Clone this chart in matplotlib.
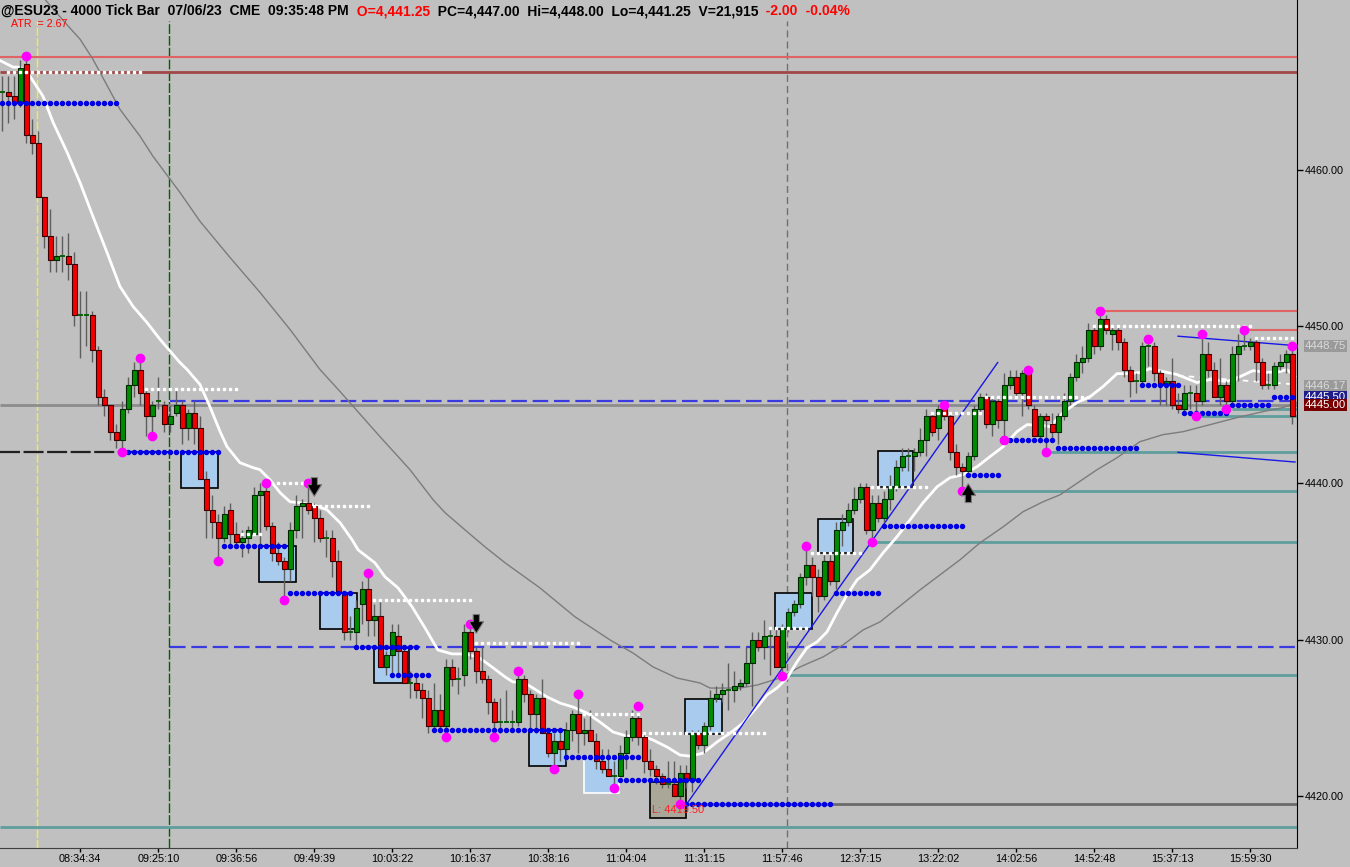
import matplotlib
matplotlib.use("Agg")
import matplotlib.pyplot as plt
from matplotlib.patches import Rectangle
import numpy as np

plt.rcParams['font.family'] = ['Liberation Sans', 'DejaVu Sans']

# ---------------- data ----------------
opens = [4465.0, 4465.0, 4464.75, 4464.25, 4466.75, 4462.25, 4461.75, 4458.25, 4455.75, 4454.25,
         4454.5, 4454.5, 4454.0, 4450.75, 4450.75, 4450.75, 4448.5, 4445.5, 4445.0, 4443.25,
         4442.75, 4444.75, 4446.25, 4447.25, 4445.75, 4444.25, 4445.25, 4445.0, 4443.75, 4444.5,
         4445.0, 4443.5, 4444.5, 4443.5, 4440.25, 4438.25, 4437.5, 4436.5, 4438.25, 4436.75,
         4436.25, 4436.5, 4436.75, 4439.25, 4439.5, 4437.25, 4435.5, 4435.0, 4434.5, 4437.0,
         4438.5, 4438.75, 4438.5, 4437.75, 4436.5, 4436.5, 4435.0, 4433.0, 4430.5, 4430.5,
         4432.25, 4433.25, 4431.25, 4431.5, 4428.25, 4429.0, 4430.25, 4429.25, 4427.25, 4427.25,
         4426.75, 4426.25, 4424.5, 4425.5, 4424.5, 4428.25, 4427.5, 4427.75, 4430.5, 4429.25,
         4428.0, 4427.5, 4426.0, 4424.75, 4424.75, 4424.75, 4424.75, 4427.5, 4426.5, 4425.25,
         4426.25, 4424.0, 4422.75, 4423.5, 4423.0, 4424.25, 4425.25, 4424.0, 4424.25, 4423.5,
         4422.25, 4421.75, 4421.25, 4421.25, 4422.75, 4423.75, 4425.0, 4423.75, 4422.25, 4421.75,
         4421.25, 4420.75, 4420.75, 4420.0, 4421.5, 4421.0, 4424.0, 4423.25, 4424.5, 4426.25,
         4426.5, 4426.75, 4426.75, 4427.0, 4427.25, 4428.5, 4430.0, 4429.5, 4430.25, 4430.25,
         4428.25, 4430.75, 4431.75, 4432.25, 4434.0, 4434.75, 4434.0, 4432.75, 4435.0, 4433.75,
         4437.0, 4437.5, 4438.25, 4439.0, 4439.75, 4437.0, 4438.75, 4437.75, 4439.0, 4439.75,
         4441.0, 4441.75, 4441.75, 4442.0, 4442.75, 4444.25, 4443.5, 4444.75, 4444.25, 4442.0,
         4441.0, 4440.75, 4441.75, 4444.75, 4445.5, 4443.75, 4445.25, 4444.0, 4446.25, 4446.75,
         4445.75, 4447.0, 4444.75, 4443.0, 4444.25, 4443.75, 4443.25, 4444.25, 4445.25, 4446.75,
         4447.75, 4448.0, 4449.75, 4448.75, 4450.5, 4449.5, 4449.75, 4449.0, 4447.25, 4446.5,
         4446.5, 4448.75, 4448.75, 4447.0, 4446.25, 4446.5, 4445.0, 4444.75, 4445.75, 4445.75,
         4445.25, 4448.25, 4447.25, 4445.5, 4446.25, 4445.25, 4448.25, 4448.75, 4448.75, 4449.0,
         4447.75, 4446.25, 4446.25, 4447.5, 4447.75, 4448.25]
highs = [4466.0, 4466.0, 4466.0, 4467.0, 4467.25, 4463.25, 4462.5, 4458.25, 4457.5, 4455.75,
         4455.75, 4456.0, 4454.75, 4452.25, 4452.25, 4451.0, 4448.75, 4446.0, 4445.0, 4443.75,
         4445.25, 4446.75, 4447.75, 4448.0, 4446.0, 4445.25, 4446.75, 4445.25, 4445.0, 4446.0,
         4445.25, 4444.75, 4445.25, 4444.25, 4440.75, 4439.25, 4438.0, 4438.5, 4438.75, 4437.5,
         4437.0, 4437.25, 4439.75, 4440.0, 4440.0, 4437.5, 4436.25, 4435.25, 4437.5, 4439.25,
         4439.0, 4440.0, 4438.75, 4438.25, 4437.0, 4437.0, 4435.75, 4433.0, 4431.5, 4432.5,
         4433.75, 4434.0, 4432.25, 4432.5, 4429.25, 4431.0, 4431.0, 4429.5, 4428.0, 4427.75,
         4427.25, 4426.75, 4427.25, 4426.5, 4428.75, 4428.75, 4428.25, 4431.0, 4431.0, 4429.5,
         4429.5, 4427.75, 4426.25, 4426.25, 4426.75, 4425.5, 4428.0, 4427.75, 4426.75, 4426.5,
         4427.5, 4424.25, 4424.0, 4424.25, 4424.75, 4425.5, 4426.25, 4425.0, 4425.5, 4424.0,
         4423.0, 4423.0, 4422.25, 4423.25, 4424.25, 4425.5, 4425.25, 4424.0, 4423.0, 4422.0,
         4421.5, 4422.25, 4422.25, 4422.0, 4422.0, 4424.25, 4424.25, 4424.75, 4426.75, 4427.0,
         4427.25, 4428.5, 4428.0, 4427.5, 4429.5, 4430.5, 4430.5, 4431.25, 4430.75, 4430.75,
         4431.0, 4432.0, 4432.5, 4434.25, 4435.75, 4435.25, 4434.5, 4435.5, 4435.5, 4437.5,
         4438.0, 4438.75, 4439.75, 4440.0, 4440.0, 4439.25, 4439.25, 4439.5, 4440.5, 4441.5,
         4442.25, 4442.25, 4442.25, 4443.5, 4444.75, 4444.5, 4445.0, 4445.0, 4444.5, 4442.5,
         4441.25, 4442.0, 4445.0, 4445.75, 4445.75, 4445.5, 4445.5, 4447.0, 4447.25, 4447.25,
         4447.25, 4447.25, 4445.0, 4444.5, 4444.5, 4444.5, 4444.5, 4445.75, 4447.0, 4448.25,
         4448.75, 4450.25, 4450.0, 4451.0, 4450.75, 4450.0, 4450.0, 4449.25, 4447.5, 4447.0,
         4449.0, 4449.25, 4449.0, 4447.25, 4446.75, 4448.0, 4445.75, 4446.25, 4446.25, 4446.25,
         4449.25, 4449.0, 4447.75, 4448.0, 4446.5, 4448.75, 4449.5, 4449.5, 4449.25, 4449.25,
         4448.0, 4447.0, 4447.75, 4448.25, 4448.5, 4448.75]
lows = [4462.5, 4463.0, 4463.25, 4464.0, 4461.75, 4461.0, 4458.25, 4455.0, 4453.5, 4453.5,
        4453.5, 4453.0, 4450.0, 4448.0, 4448.75, 4447.75, 4445.0, 4444.25, 4442.75, 4442.25,
        4442.0, 4444.5, 4445.5, 4445.0, 4443.0, 4443.0, 4444.75, 4443.25, 4443.25, 4444.25,
        4442.5, 4442.75, 4442.5, 4440.25, 4436.5, 4436.5, 4435.25, 4436.25, 4436.0, 4436.0,
        4435.25, 4435.5, 4436.75, 4436.0, 4437.0, 4435.0, 4434.75, 4432.75, 4433.75, 4436.5,
        4436.5, 4438.0, 4436.25, 4436.25, 4435.25, 4434.0, 4433.0, 4430.0, 4430.0, 4429.5,
        4431.0, 4430.25, 4430.25, 4428.25, 4427.75, 4427.75, 4427.75, 4427.25, 4426.25, 4426.25,
        4425.0, 4424.0, 4424.25, 4424.25, 4424.0, 4427.0, 4426.5, 4427.0, 4428.75, 4427.25,
        4427.25, 4425.25, 4424.0, 4424.0, 4424.75, 4424.25, 4424.5, 4426.0, 4424.25, 4424.0,
        4424.0, 4422.5, 4422.0, 4422.25, 4422.25, 4423.5, 4422.75, 4423.25, 4423.5, 4421.75,
        4421.5, 4421.25, 4420.75, 4421.25, 4421.75, 4423.5, 4423.25, 4421.5, 4421.25, 4420.75,
        4420.5, 4420.5, 4420.0, 4419.5, 4420.5, 4420.25, 4423.0, 4422.75, 4424.25, 4426.0,
        4426.0, 4425.5, 4426.0, 4426.75, 4427.0, 4425.75, 4429.25, 4428.75, 4427.75, 4428.25,
        4427.75, 4430.5, 4431.5, 4432.0, 4433.5, 4432.75, 4431.75, 4432.5, 4433.5, 4433.25,
        4436.0, 4437.25, 4438.0, 4438.75, 4436.75, 4436.25, 4437.5, 4437.5, 4438.25, 4439.5,
        4440.75, 4440.75, 4440.75, 4441.75, 4441.75, 4443.0, 4442.75, 4444.0, 4441.5, 4440.5,
        4439.75, 4440.5, 4441.5, 4444.5, 4443.5, 4443.0, 4443.5, 4443.0, 4446.0, 4445.5,
        4444.25, 4444.75, 4443.0, 4442.75, 4442.0, 4442.75, 4442.5, 4444.0, 4445.0, 4446.5,
        4447.0, 4447.75, 4448.25, 4448.5, 4449.5, 4448.5, 4448.5, 4446.75, 4445.5, 4445.75,
        4446.25, 4447.5, 4446.5, 4445.0, 4445.0, 4444.75, 4444.5, 4444.5, 4444.75, 4444.5,
        4445.0, 4446.75, 4445.5, 4445.0, 4445.0, 4445.0, 4446.5, 4448.5, 4448.5, 4446.5,
        4446.0, 4446.0, 4446.0, 4447.25, 4447.0, 4443.75]
closes = [4465.0, 4464.75, 4464.25, 4466.5, 4462.25, 4461.75, 4458.25, 4455.75, 4454.25, 4454.5,
          4454.5, 4454.0, 4450.75, 4450.75, 4450.75, 4448.5, 4445.5, 4445.0, 4443.25, 4442.75,
          4444.75, 4446.25, 4447.25, 4445.75, 4444.25, 4445.0, 4445.25, 4443.75, 4444.25, 4445.0,
          4443.5, 4444.5, 4443.5, 4440.25, 4438.25, 4437.5, 4436.5, 4438.0, 4436.75, 4436.25,
          4436.5, 4437.0, 4439.25, 4439.5, 4437.25, 4435.5, 4435.0, 4434.5, 4437.0, 4438.5,
          4438.75, 4438.25, 4437.75, 4436.5, 4436.5, 4435.0, 4433.0, 4430.5, 4430.5, 4432.0,
          4433.25, 4431.25, 4431.5, 4428.25, 4429.0, 4430.5, 4429.25, 4427.25, 4427.25, 4426.75,
          4426.25, 4424.5, 4425.5, 4424.5, 4428.25, 4427.5, 4427.5, 4430.5, 4429.25, 4428.0,
          4427.5, 4426.0, 4424.75, 4424.75, 4424.75, 4424.75, 4427.5, 4426.5, 4425.25, 4426.25,
          4424.0, 4422.75, 4423.5, 4423.0, 4424.25, 4425.25, 4424.0, 4424.25, 4423.5, 4422.25,
          4421.75, 4421.25, 4421.25, 4422.75, 4423.75, 4425.0, 4423.75, 4422.25, 4421.75, 4421.25,
          4420.75, 4420.75, 4420.0, 4421.5, 4421.0, 4424.0, 4423.25, 4424.5, 4426.25, 4426.5,
          4426.75, 4426.75, 4427.0, 4427.25, 4428.5, 4430.0, 4429.5, 4430.25, 4430.25, 4428.25,
          4430.75, 4431.75, 4432.25, 4434.0, 4434.75, 4434.0, 4432.75, 4435.0, 4433.75, 4437.0,
          4437.5, 4438.25, 4439.0, 4439.75, 4437.0, 4438.75, 4437.75, 4439.0, 4439.75, 4441.0,
          4441.75, 4441.75, 4442.0, 4442.75, 4444.25, 4443.25, 4444.75, 4444.25, 4442.0, 4441.0,
          4440.75, 4441.75, 4444.75, 4445.5, 4443.75, 4445.25, 4444.0, 4446.25, 4446.75, 4445.75,
          4447.0, 4445.0, 4443.0, 4444.25, 4444.0, 4443.25, 4444.25, 4445.25, 4446.75, 4447.75,
          4448.0, 4449.75, 4448.75, 4450.5, 4449.75, 4449.75, 4449.0, 4447.25, 4446.5, 4446.5,
          4448.75, 4448.75, 4447.0, 4446.25, 4446.5, 4445.0, 4444.75, 4445.75, 4445.75, 4445.25,
          4448.25, 4447.25, 4445.5, 4446.25, 4445.25, 4448.25, 4448.75, 4448.75, 4449.0, 4447.75,
          4446.25, 4446.25, 4447.5, 4447.75, 4448.25, 4444.25]

time_tick_bars = [13, 26, 39, 52, 65, 78, 91, 104, 117, 130, 143, 156, 169, 182, 195, 208]
time_labels = ['08:34:34', '09:25:10', '09:36:56', '09:49:39', '10:03:22', '10:16:37', '10:38:16',
               '11:04:04', '11:31:15', '11:57:46', '12:37:15', '13:22:02', '14:02:56', '14:52:48',
               '15:37:13', '15:59:30']
price_ticks = [4420, 4430, 4440, 4450, 4460]

# fast (white) moving average, read at bar positions
fast_ma_bar = [-0.4, 1.8, 2.95, 4.6, 6.8, 8.45, 10.8, 12.95, 15.1, 17.45, 19.6, 21.8, 24.1, 26.3,
               29.6, 30.8, 32.95, 34.6, 36.3, 37.45, 39.6, 41.8, 42.95, 44.6, 46.3, 47.95, 49.6,
               51.8, 54.1, 56.3, 58.3, 59.3, 62.1, 63.8, 65.95, 68.3, 70.45, 72.6, 74.95, 77.1,
               79.3, 81.6, 83.8, 85.1, 86.8, 88.45, 90.8, 92.95, 95.1, 97.45, 99.6, 101.8, 104.1,
               106.3, 108.45, 110.8, 112.95, 114.6, 116.8, 119.1, 121.3, 123.45, 125.8, 127.45,
               129.1, 130.8, 132.45, 134.1, 135.8, 137.45, 139.1, 140.8, 142.45, 144.6, 146.8,
               149.1, 151.3, 153.45, 155.8, 157.95, 160.1, 162.45, 164.6, 166.8, 169.1, 170.8,
               173.45, 174.6, 176.8, 179.1, 181.3, 183.45, 185.8, 187.95, 189.6, 191.3, 193.45,
               195.8, 199.1, 201.3, 204.1, 206.3, 208.45, 210.8, 212.95, 214.1, 215.4]
fast_ma_val = [4467.0, 4466.57, 4466.57, 4466.0, 4464.7, 4463.05, 4461.13, 4459.2, 4457.04, 4454.73,
               4452.56, 4451.28, 4450.26, 4449.17, 4447.7, 4447.25, 4446.29, 4444.88, 4443.28,
               4442.32, 4441.3, 4440.98, 4440.85, 4440.21, 4439.38, 4438.8, 4438.74, 4438.61,
               4438.29, 4437.46, 4436.37, 4435.73, 4434.9, 4434.0, 4433.3, 4432.09, 4430.74,
               4429.33, 4429.08, 4429.08, 4428.89, 4428.25, 4427.61, 4427.29, 4427.29, 4426.9,
               4426.33, 4425.94, 4425.69, 4425.3, 4424.73, 4424.09, 4423.83, 4423.9, 4423.58,
               4423.13, 4422.62, 4422.55, 4422.74, 4423.45, 4424.02, 4424.66, 4425.69, 4426.46,
               4426.9, 4427.54, 4428.57, 4429.46, 4429.85, 4430.49, 4431.7, 4432.85, 4433.81,
               4434.45, 4435.54, 4436.56, 4437.65, 4438.74, 4439.76, 4440.34, 4440.53, 4441.04,
               4441.68, 4442.32, 4443.28, 4443.73, 4443.67, 4443.6, 4444.5, 4445.14, 4445.52,
               4446.16, 4446.99, 4446.99, 4447.06, 4447.31, 4447.12, 4446.93, 4446.42, 4446.61,
               4446.48, 4446.8, 4447.18, 4447.06, 4447.12, 4447.25, 4446.8]
# slow (grey) moving average
slow_ma_bar = [7.1, 10.8, 12.95, 15.1, 19.6, 22.95, 25.1, 29.6, 32.95, 37.95, 42.95, 47.95, 52.95,
               56.3, 62.95, 67.95, 71.8, 73.8, 77.1, 80.45, 83.8, 89.6, 95.45, 101.3, 105.1,
               108.45, 112.45, 116.3, 117.95, 122.95, 125.8, 129.6, 132.95, 136.8, 140.1, 143.45,
               146.3, 152.95, 159.6, 162.95, 166.8, 170.1, 173.45, 176.3, 182.45, 185.8, 189.6,
               193.45, 196.8, 201.3, 205.8, 210.1, 213.45, 215.8]
slow_ma_val = [4470.9, 4469.27, 4468.36, 4467.08, 4463.88, 4462.16, 4460.88, 4458.57, 4456.72,
               4454.41, 4452.18, 4449.81, 4447.25, 4445.84, 4442.96, 4440.85, 4438.93, 4438.1,
               4437.01, 4435.92, 4434.9, 4433.3, 4431.45, 4429.97, 4429.14, 4428.25, 4427.54,
               4427.22, 4426.9, 4426.9, 4427.09, 4427.54, 4428.25, 4428.89, 4429.65, 4430.61,
               4431.13, 4433.17, 4435.09, 4436.18, 4437.2, 4438.16, 4438.8, 4439.25, 4440.85,
               4441.62, 4442.64, 4443.09, 4443.28, 4443.73, 4444.18, 4444.56, 4444.82, 4445.14]

# resistance (white) and support (blue) dotted levels
res_start = [1, 24, 44, 52, 40, 62, 79, 97, 107, 128, 135, 145, 155, 164, 182, 209]
res_end = [23, 39, 51, 61, 43, 78, 96, 106, 127, 134, 143, 154, 163, 181, 208, 215]
res_price = [4466.25, 4446.0, 4440.0, 4438.5, 4436.75, 4432.5, 4429.75, 4425.25, 4424.0, 4430.75,
             4435.5, 4439.75, 4444.5, 4445.5, 4450.0, 4449.25]
sup_start = [0, 20, 37, 48, 59, 65, 72, 94, 103, 113, 139, 147, 161, 167, 176, 190, 197, 205, 212]
sup_end = [19, 36, 47, 58, 69, 71, 93, 106, 116, 138, 146, 160, 166, 175, 189, 196, 204, 211, 215]
sup_price = [4464.25, 4442.0, 4436.0, 4433.0, 4429.5, 4427.75, 4424.25, 4422.5, 4421.0, 4419.5,
             4433.0, 4437.25, 4440.5, 4442.75, 4442.25, 4446.25, 4444.5, 4445.0, 4445.5]

# swing pivots (magenta)
pivot_bar = [4, 23, 20, 25, 36, 44, 51, 47, 61, 74, 82, 78, 86, 92, 96, 102, 106, 113, 130, 134,
             145, 157, 160, 167, 171, 174, 183, 191, 199, 200, 204, 207, 215]
pivot_price = [4467.3, 4448.0, 4442.0, 4443.0, 4435.0, 4440.0, 4440.0, 4432.5, 4434.25, 4423.75,
               4423.75, 4431.0, 4428.0, 4421.7, 4426.5, 4420.5, 4425.75, 4419.5, 4427.7, 4436.0,
               4436.25, 4445.0, 4439.5, 4442.75, 4447.25, 4442.0, 4451.0, 4449.2, 4444.25,
               4449.5, 4444.75, 4449.75, 4448.75]

# signal boxes
box_left = [29.8, 42.8, 52.95, 61.9, 87.85, 96.9, 107.9, 113.8, 128.8, 135.9, 145.9]
box_right = [35.95, 48.9, 59.1, 67.85, 93.9, 102.8, 113.9, 119.9, 134.9, 141.85, 151.85]
box_low = [4439.7, 4433.7, 4430.7, 4427.2, 4421.9, 4420.2, 4418.6, 4423.95, 4430.7, 4435.5, 4439.75]
box_high = [4442.0, 4436.0, 4433.0, 4429.45, 4424.2, 4422.5, 4420.9, 4426.2, 4433.0, 4437.7, 4442.05]
box_kind = ['b', 'b', 'b', 'b', 'b', 'w', 't', 'b', 'b', 'b', 'b']

# horizontal solid levels (start bar, price, kind)
level_start = [-0.4, -0.4, -0.4, -0.4, 112.9, 174.6, 160.1, 144.6, 130.5, 204.9, 199.1, 182.95, 206.95]
level_price = [4467.25, 4466.25, 4445.0, 4418.0, 4419.5, 4442.0, 4439.5, 4436.25, 4427.75,
               4444.75, 4444.25, 4451.0, 4449.75]
level_kind = ['red', 'dred', 'grey', 'teal', 'dgrey', 'teal', 'teal', 'teal', 'teal', 'teal',
              'teal', 'red', 'red']
# dashed levels
dash_start = [27.95, 27.95, -0.4]
dash_end = [215.8, 215.8, 27.95]
dash_price = [4445.25, 4429.5, 4442.0]
dash_kind = ['blue', 'blue', 'black']

# trend lines
trend_b0 = [113.9, 195.95, 195.95]
trend_p0 = [4419.4, 4449.38, 4441.96]
trend_b1 = [165.9, 215.45, 215.45]
trend_p1 = [4447.7, 4448.78, 4441.34]

# session separators
vline_bar = [5.83, 27.8, 130.8]
vline_color = ['#f0f040', '#006000', '#707070']

# signal arrows (bar, tip price, direction)
arrow_bar = [52, 79, 161]
arrow_tip = [4439.15, 4430.4, 4439.95]
arrow_dir = [-1, -1, 1]

# right-side price tags
tag_price = [4448.75, 4446.17, 4445.50, 4445.00]
tag_bg = ['#9a9a9a', '#9a9a9a', '#1c1c8c', '#780000']
tag_fg = ['#dadada', '#dadada', 'white', 'white']

# ---------------- figure ----------------
BG = '#c0c0c0'
W, H = 1350, 867
fig = plt.figure(figsize=(W / 100, H / 100), dpi=100, facecolor=BG)
ax = fig.add_axes([0, 19 / H, 1297 / W, 848 / H])
ax.set_facecolor(BG)
XMIN, XMAX = -0.383, 215.78
ax.set_xlim(XMIN, XMAX)
ax.set_ylim(4416.68, 4470.86)

TEAL = '#5f9e9e'
kind_col = {'red': '#e06464', 'dred': '#a04848', 'grey': '#8c8c8c', 'teal': TEAL, 'dgrey': '#6a6a6a'}
kind_lw = {'red': 1.5, 'dred': 2.0, 'grey': 2.0, 'teal': 2.0, 'dgrey': 2.0}
for s, p, k in zip(level_start, level_price, level_kind):
    ax.hlines(p, s, XMAX, color=kind_col[k], lw=kind_lw[k], zorder=2)

for s, e, p, k in zip(dash_start, dash_end, dash_price, dash_kind):
    if k == 'blue':
        ax.hlines(p, s, e, color='#3a3ae0', lw=1.6, linestyles=(0, (7, 2.6)), zorder=2.2)
    else:
        ax.hlines(p, s, e, color='#202020', lw=1.6, linestyles=(0, (9, 1.6)), zorder=2.2)

# session separators
ax.vlines(vline_bar[0], 4416.68, 4469.5, color=vline_color[0], lw=1, linestyles=(0, (6, 1.5)), zorder=1.5)
ax.vlines(vline_bar[1], 4416.68, 4469.5, color=vline_color[1], lw=1, linestyles=(0, (7, 1.5)), zorder=1.5)
ax.vlines(vline_bar[2], 4416.68, 4469.5, color=vline_color[2], lw=1, linestyles=(0, (5, 3)), zorder=1.5)

# boxes
face = {'b': '#a9cbee', 'w': '#a9cbee', 't': '#aaa698'}
edge = {'b': 'black', 'w': 'white', 't': 'black'}
for x0, x1, y0, y1, kd in zip(box_left, box_right, box_low, box_high, box_kind):
    ax.add_patch(Rectangle((x0, y0), x1 - x0, y1 - y0, facecolor=face[kd], edgecolor=edge[kd],
                           lw=1.2, zorder=3))

# moving averages
ax.plot(slow_ma_bar, slow_ma_val, color='#7c7c7c', lw=1.0, zorder=3.5)
ax.plot(fast_ma_bar, fast_ma_val, color='white', lw=2.0, zorder=3.6)

# trend lines
for b0, p0, b1, p1 in zip(trend_b0, trend_p0, trend_b1, trend_p1):
    ax.plot([b0, b1], [p0, p1], color='#1818e8', lw=1.0, zorder=4)
ax.plot([195.95, 215.8], [4446.86, 4446.29], color='white', lw=1.3, ls=(0, (3, 3)), zorder=4)

# candles
o = np.array(opens); h = np.array(highs); l = np.array(lows); c = np.array(closes)
idx = np.arange(len(o))
ax.vlines(idx, l, h, color='#5e5e5e', lw=1.0, zorder=5)
up = c > o
dn = c < o
eq = c == o
bw = 0.76
ax.bar(idx[up], (c - o)[up], bottom=o[up], width=bw, color='#008c00', edgecolor='#002800',
       linewidth=0.8, zorder=6)
ax.bar(idx[dn], (o - c)[dn], bottom=c[dn], width=bw, color='#f00000', edgecolor='#3a0000',
       linewidth=0.8, zorder=6)
ax.hlines(o[eq], idx[eq] - bw / 2, idx[eq] + bw / 2, color='#005a00', lw=1.3, zorder=6)

# dotted levels
for s, e, p in zip(res_start, res_end, res_price):
    ks = np.arange(s, e + 1)
    ax.plot(ks, np.full(len(ks), p), ls='none', marker='s', ms=2.1, color='white', zorder=7)
for s, e, p in zip(sup_start, sup_end, sup_price):
    ks = np.arange(s, e + 1)
    ax.plot(ks, np.full(len(ks), p), ls='none', marker='o', ms=2.9, color='#0000e6', zorder=7)

# pivots
ax.plot(pivot_bar, pivot_price, ls='none', marker='o', ms=6, color='#ff00ff', zorder=8)

# arrows
for b, p, d in zip(arrow_bar, arrow_tip, arrow_dir):
    ax.annotate('', xy=(b, p), xytext=(0, -13.5 * d), textcoords='offset points',
                arrowprops=dict(arrowstyle='simple,head_length=0.6,head_width=0.75,tail_width=0.32',
                                mutation_scale=14, fc='black', ec='#7a7a7a', lw=0.8,
                                shrinkA=0, shrinkB=0), zorder=9)

# low label
ax.text(108.3, 4419.1, 'L: 4419.50', color='#ff2020', fontsize=8, va='center', ha='left', zorder=9)

# axes styling
for s in ['left', 'top']:
    ax.spines[s].set_visible(False)
ax.spines['bottom'].set_color('#404040')
ax.spines['right'].set_color('black')
ax.yaxis.tick_right()
ax.set_yticks(price_ticks)
ax.set_yticklabels([f'{v:.2f}' for v in price_ticks])
ax.tick_params(axis='y', length=4, width=1, pad=1.5, labelsize=7.8, colors='black')
ax.set_xticks(time_tick_bars)
ax.set_xticklabels(time_labels)
ax.tick_params(axis='x', length=3, width=1, pad=1.5, labelsize=7.8, colors='black')

# price tags
ytr = ax.get_yaxis_transform()
for p, bg, fg in zip(tag_price, tag_bg, tag_fg):
    ax.text(1.006, p, f'{p:.2f}', transform=ytr, fontsize=8.2, color=fg, va='center', ha='left',
            clip_on=False, zorder=20,
            bbox=dict(boxstyle='square,pad=0.1', fc=bg, ec='none'))

# header
parts = [("@ESU23 - 4000 Tick Bar  07/06/23  CME  09:35:48 PM", 'black'),
         ("  O=4,441.25", '#ff0000'),
         ("  PC=4,447.00  Hi=4,448.00  Lo=4,441.25  V=21,915", 'black'),
         ("  -2.00", '#ff0000'),
         ("  -0.04%", '#ff0000')]
prev = fig.text(1 / W, 1 - 15 / H, parts[0][0], color=parts[0][1], fontsize=10, fontweight='bold',
                va='baseline', ha='left')
for txt, col in parts[1:]:
    prev = ax.annotate(txt, xy=(1, 0), xycoords=prev, va='bottom', ha='left', color=col,
                       fontsize=10, fontweight='bold', annotation_clip=False)
fig.text(11 / W, 1 - 24 / H, 'ATR  = 2.67', color='#ff0000', fontsize=7.7, va='center', ha='left')

fig.savefig('out.png', dpi=100, facecolor=BG)
